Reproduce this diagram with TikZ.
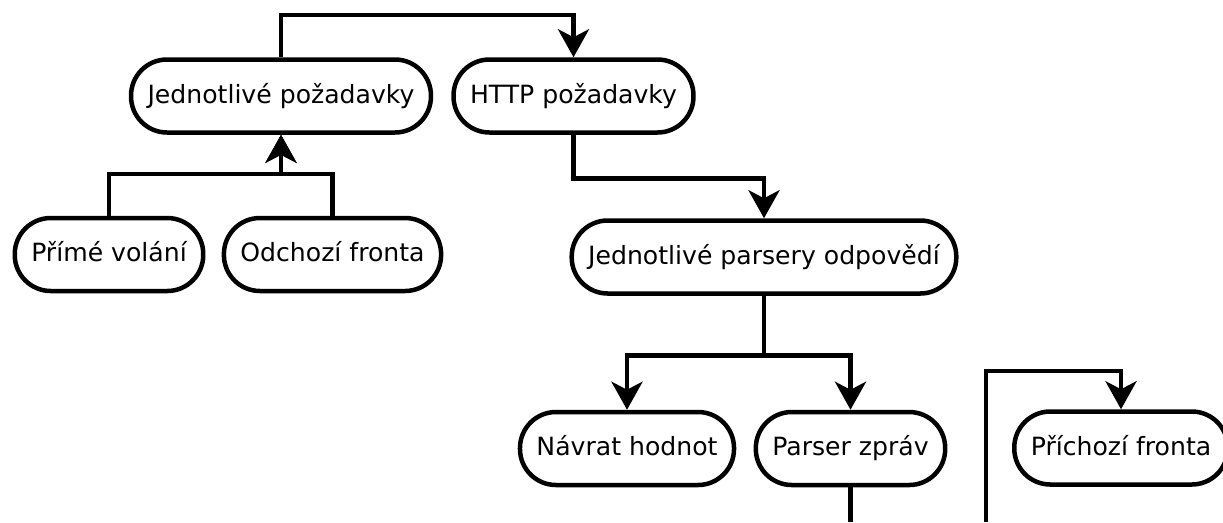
\documentclass[tikz,border=0pt]{standalone}
\usepackage{fontspec}
\setmainfont{DejaVu Sans}
\usepackage{tikz}
\usetikzlibrary{positioning,arrows.meta}

\begin{document}
\begin{tikzpicture}
            [line width=0.09cm,
             pill/.style={draw, fill=white, rounded corners=0.72cm, inner xsep=0.33cm,
                          minimum height=1.46cm, text height=0.84em, text depth=0em,
                          font=\fontsize{14.3pt}{17pt}\selectfont},
             link/.style={-{Stealth[length=0.56cm, width=0.62cm, inset=0.16cm]}}]
            \useasboundingbox (0,0) rectangle (24.46,-10.44);
            \node[pill] (jp) at (5.62,-1.92) {Jednotlivé požadavky};
            \node[pill] (http) at (11.47,-1.92) {HTTP požadavky};
            \node[pill] (pv) at (2.18,-5.09) {Přímé volání};
            \node[pill] (of) at (6.65,-5.09) {Odchozí fronta};
            \node[pill] (jpo) at (15.28,-5.14) {Jednotlivé parsery odpovědí};
            \node[pill] (nh) at (12.54,-8.97) {Návrat hodnot};
            \node[pill] (ps) at (17.01,-8.97) {Parser zpráv};
            \node[pill] (pf) at (22.42,-8.96) {Příchozí fronta};
            \coordinate (psout) at (17.01,-10.44);
            \coordinate (pfin) at (19.72,-10.44);

            \foreach \from/\to/\dy in {jp.north/http.north/0.85, pv.north/jp.south/0.84, of.north/jp.south/0.84,
                                       http.south/jpo.north/-0.87, jpo.south/nh.north/-1.19, jpo.south/ps.north/-1.19,
                                       pfin/pf.north/3.02}
            \draw[link] (\from) -- ++(0,\dy) -| (\to);
            \draw (ps.south) -- (psout);
          \end{tikzpicture}
\end{document}
